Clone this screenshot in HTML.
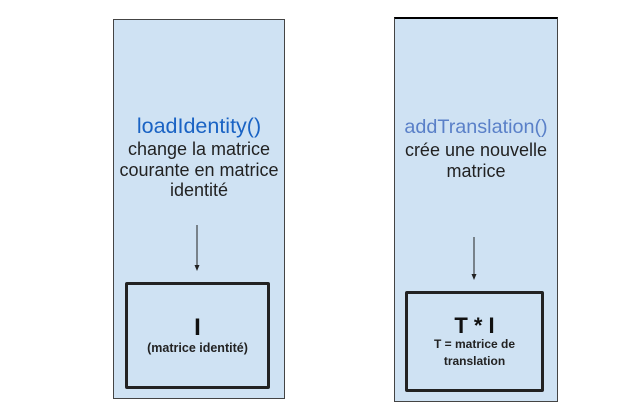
<!DOCTYPE html>
<html><head><meta charset="utf-8"><style>
body{margin:0;width:642px;height:408px;background:#fff;position:relative;overflow:hidden;font-family:"Liberation Sans",sans-serif}
.p{position:absolute;background:#cfe2f3;border:1px solid #444;box-sizing:border-box}
.b{position:absolute;border:3px solid #222;box-sizing:border-box;border-radius:2px}
.t{position:absolute;text-align:center;white-space:nowrap}
</style></head><body>
<div class="p" style="left:113px;top:19px;width:172px;height:380px"></div>
<div class="p" style="left:394px;top:17px;width:164px;height:385px;border-top:2px solid #000"></div>
<div class="b" style="left:125px;top:282px;width:145px;height:107px"></div>
<div class="b" style="left:405px;top:291px;width:139px;height:101px"></div>
<div class="t" style="left:93px;width:212px;top:114px;font-size:21.5px;color:#1a63c4">loadIdentity()</div>
<div class="t" style="left:93px;width:212px;top:139px;font-size:18px;line-height:20.5px;color:#222">change la matrice<br>courante en matrice<br>identité</div>
<div class="t" style="left:374px;width:204px;top:116px;font-size:19.8px;color:#5a80c8">addTranslation()</div>
<div class="t" style="left:374px;width:204px;top:140px;font-size:18px;line-height:20.5px;color:#222">crée une nouvelle<br>matrice</div>
<div class="t" style="left:125px;width:145px;top:314px;font-size:24px;font-weight:bold;color:#111">I</div>
<div class="t" style="left:125px;width:145px;top:341px;font-size:12.5px;font-weight:bold;color:#222">(matrice identité)</div>
<div class="t" style="left:405px;width:139px;top:313px;font-size:22px;font-weight:bold;color:#111">T * I</div>
<div class="t" style="left:405px;width:139px;top:336px;font-size:12px;font-weight:bold;line-height:17px;color:#222">T = matrice de<br>translation</div>
<svg width="642" height="408" style="position:absolute;left:0;top:0">
<line x1="197" y1="225" x2="197" y2="266" stroke="#222" stroke-width="1"/>
<polygon points="194.5,265 199.5,265 197,271" fill="#222"/>
<line x1="474" y1="237" x2="474" y2="275" stroke="#222" stroke-width="1"/>
<polygon points="471.5,274 476.5,274 474,280" fill="#222"/>
</svg>
</body></html>
